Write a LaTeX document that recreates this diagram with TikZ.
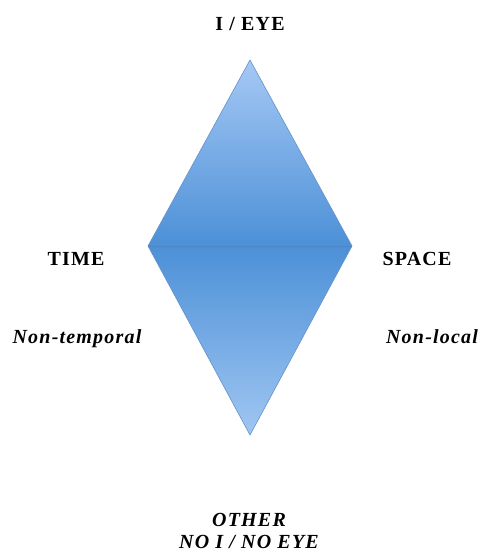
\documentclass[tikz,border=0pt]{standalone}
\usepackage{fontspec}
\setmainfont[LetterSpace=6]{Liberation Serif}
\usepackage{tikz}
\definecolor{paleblue}{RGB}{165,200,244}
\definecolor{midblue}{RGB}{76,144,215}
\definecolor{lowblue}{RGB}{160,198,242}
\definecolor{edgeblue}{RGB}{100,145,200}
\definecolor{seamblue}{RGB}{80,135,195}

\begin{document}
\begin{tikzpicture}[x=1pt,y=-1pt,
  every node/.style={font=\fontsize{20}{23}\selectfont\bfseries},
  pole/.style={anchor=base},
  sub/.style={anchor=base,font=\fontsize{20}{23}\selectfont\bfseries\itshape}]
  \useasboundingbox (0,0) rectangle (482,553);
  % corners of the diamond
  \coordinate (top) at (250,60);
  \coordinate (left) at (148,246);
  \coordinate (right) at (352,246);
  \coordinate (bottom) at (250,435);
  \shade[top color=paleblue, bottom color=midblue]
    (top) -- (right) -- (left) -- cycle;
  \shade[top color=midblue, bottom color=lowblue]
    (left) -- (right) -- (bottom) -- cycle;
  \draw[edgeblue, line width=0.6pt]
    (top) -- (right) -- (bottom) -- (left) -- cycle;
  \draw[seamblue, line width=0.5pt] (left) -- (right);
  % labels
  \node[pole] (eye) at (250,31) {I / EYE};
  \node[pole] (time) at (76,265) {TIME};
  \node[pole] (space) at (417,265) {SPACE};
  \node[sub] (temporal) at (77,343) {Non-temporal};
  \node[sub] (local) at (432,343) {Non-local};
  \node[sub] (other) at (249,526) {OTHER};
  \node[sub] (noeye) at (249,548) {NO I / NO EYE};
\end{tikzpicture}
\end{document}
